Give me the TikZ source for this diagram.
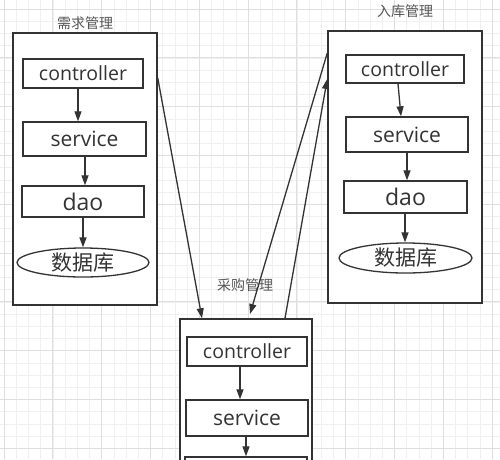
\documentclass[tikz,border=0pt]{standalone}
\usepackage{fontspec}
\setmainfont{Open Sans}
\newfontfamily\cjk{Noto Sans CJK SC}
\usetikzlibrary{arrows.meta,shapes.geometric}
\definecolor{ln}{HTML}{333333}
\definecolor{gridminor}{HTML}{F0F0F0}
\definecolor{gridmajor}{HTML}{DFDFDF}
\definecolor{titlec}{HTML}{555555}
\tikzset{
  container/.style={draw=ln, line width=1.5pt, fill=white, inner sep=0pt},
  layer/.style={draw=ln, line width=1.4pt, fill=white, inner sep=0pt, text=ln},
  dbnode/.style={ellipse, draw=ln, line width=1.3pt, fill=white, inner sep=0pt, text=ln},
  title/.style={text=titlec, font=\cjk\fontsize{14}{16}\selectfont, inner sep=0pt},
  arr/.style={draw=ln, line width=1.3pt, -{Triangle[length=10pt,width=7pt]}},
  ctl/.style={font=\fontsize{19.5}{21}\selectfont},
  svc/.style={font=\fontsize{21}{23}\selectfont},
  daot/.style={font=\fontsize{23}{25}\selectfont},
  dbt/.style={font=\cjk\fontsize{21}{23}\selectfont},
}
\begin{document}
\begin{tikzpicture}[x=1pt,y=-1pt]
\useasboundingbox (0,0) rectangle (500,459);
\clip (0,0) rectangle (500,459);
\fill[white] (0,0) rectangle (500,459);
% grid
\foreach \i in {0,...,42} {
  \draw[gridminor, line width=0.6pt] ({4+12.2*\i},0) -- ({4+12.2*\i},459);
  \draw[gridminor, line width=0.6pt] (0,{9+12.2*\i}) -- (500,{9+12.2*\i});
}
\foreach \i in {0,...,10} {
  \draw[gridmajor, line width=0.7pt] ({4+48.8*\i},0) -- ({4+48.8*\i},459);
  \draw[gridmajor, line width=0.7pt] (0,{9+48.8*\i}) -- (500,{9+48.8*\i});
}
% left module
\node[container, minimum width=144pt, minimum height=272pt] (L) at (85,169) {};
\node[title] (Lt) at (85,23) {需求管理};
\node[layer, ctl, minimum width=120pt, minimum height=29pt] (Lc) at (83,73.5) {controller};
\node[layer, svc, minimum width=123pt, minimum height=34pt] (Ls) at (84.5,139) {service};
\node[layer, daot, minimum width=122pt, minimum height=31pt] (Ld) at (83,201.5) {dao};
\node[dbnode, dbt, minimum width=132pt, minimum height=29pt] (Le) at (83,262.5) {数据库};
\draw[arr] (Lc.south -| 78,0) -- (Ls.north -| 78,0);
\draw[arr] (Ls.south -| 85,0) -- (Ld.north -| 85,0);
\draw[arr] (Ld.south -| 83,0) -- (Le.north -| 83,0);
% right module
\node[container, minimum width=154pt, minimum height=272pt] (R) at (405,167) {};
\node[title] (Rt) at (405,11) {入库管理};
\node[layer, ctl, minimum width=118pt, minimum height=28pt] (Rc) at (405,69) {controller};
\node[layer, svc, minimum width=122pt, minimum height=35pt] (Rs) at (407,134.5) {service};
\node[layer, daot, minimum width=123pt, minimum height=32pt] (Rd) at (405.5,197) {dao};
\node[dbnode, dbt, minimum width=133pt, minimum height=30pt] (Re) at (405.5,258) {数据库};
\draw[arr] (Rc.south -| 398,0) -- (Rs.north -| 401,0);
\draw[arr] (Rs.south -| 407,0) -- (Rd.north -| 407,0);
\draw[arr] (Rd.south -| 405,0) -- (Re.north -| 405,0);
% bottom module
\node[container, minimum width=132pt, minimum height=200pt] (B) at (246,419) {};
\node[title] (Bt) at (245,285) {采购管理};
\node[layer, ctl, minimum width=120pt, minimum height=29pt] (Bc) at (247,351.5) {controller};
\node[layer, svc, minimum width=122pt, minimum height=36pt] (Bs) at (247,418) {service};
\node[layer, daot, minimum width=122pt, minimum height=32pt] (Bd) at (246,473) {};
\draw[arr] (Bc.south -| 240,0) -- (Bs.north -| 240,0);
\draw[arr] (Bs.south -| 246,0) -- (Bd.north -| 246,0);
% cross-module connectors
\coordinate (c2) at (250,314);
\draw[arr] (L.east |- 0,78) -- (B.north -| 202,0);
\draw[arr] (R.west |- 0,53) -- (c2);
\draw[arr] (B.north -| 285,0) -- (R.west |- 0,79);
\end{tikzpicture}
\end{document}
